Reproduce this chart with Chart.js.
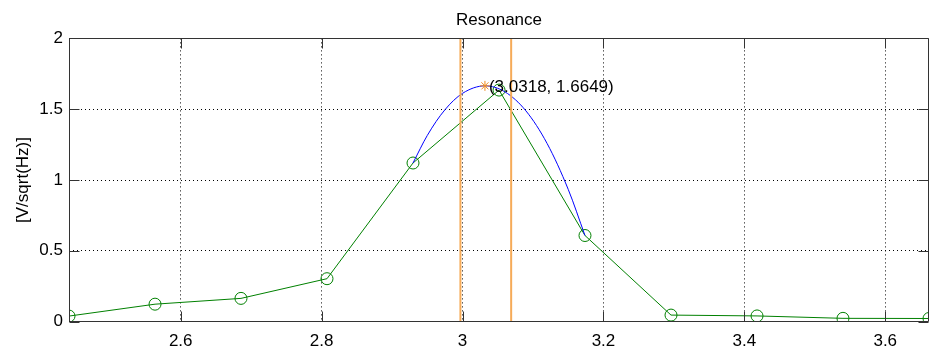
<!DOCTYPE html>
<html>
<head>
<meta charset="utf-8">
<title>Resonance</title>
<script src="https://cdn.jsdelivr.net/npm/chart.js@4"></script>
<style>
  html, body { margin: 0; padding: 0; background: #fff; overflow: hidden; }
  canvas { display: block; }
</style>
</head>
<body>
<canvas id="resChart" width="931" height="354"></canvas>
<script>
/* ═══════════════════════════════════════
   Resonance — spectrum around the peak
   ═══════════════════════════════════════ */

// Spectrum bins (frequency) and measured amplitude
const freq      = [2.4414, 2.5635, 2.6855, 2.8076, 2.9297, 3.0518, 3.1738, 3.2959, 3.4180, 3.5400, 3.6621];
const amplitude = [0.039, 0.123, 0.164, 0.303, 1.120, 1.635, 0.608, 0.046, 0.040, 0.023, 0.022];

// Fitted curve through the three top bins
const fitFreq = [2.9297, 2.95, 2.975, 3.0, 3.0318, 3.06, 3.09, 3.12, 3.15, 3.1738];
const fitAmp  = [1.120, 1.315, 1.496, 1.612, 1.6649, 1.623, 1.488, 1.258, 0.934, 0.608];

// Estimated peak and band edges
const peakFreq  = 3.0318;
const peakAmp   = 1.6649;
const bandEdges = [2.997, 3.069];

// Axis ticks
const xTicks = [2.6, 2.8, 3, 3.2, 3.4, 3.6];
const yTicks = [0, 0.5, 1, 1.5, 2];
const yRange = [0, 2];

const FONT = "'Liberation Sans', Arial, Helvetica, sans-serif";
Chart.defaults.font.family = FONT;
Chart.defaults.font.size = 17;
Chart.defaults.color = '#000';

const toXY = (xs, ys) => xs.map((x, i) => ({ x, y: ys[i] }));

// Box around the plot with inward ticks, plus the peak text
const axesBox = {
  id: 'axesBox',
  afterDatasetsDraw(chart) {
    const { ctx, chartArea: a, scales: { x, y } } = chart;
    const L = Math.round(a.left) + 0.5, R = Math.round(a.right) - 0.5;
    const T = Math.round(a.top) + 0.5,  B = Math.round(a.bottom) - 0.5;
    const tick = 10;
    ctx.save();
    ctx.strokeStyle = '#333';
    ctx.lineWidth = 1;
    ctx.beginPath();
    ctx.moveTo(L, T); ctx.lineTo(R, T); ctx.lineTo(R, B); ctx.lineTo(L, B); ctx.closePath();
    xTicks.forEach(v => {
      const px = Math.round(x.getPixelForValue(v)) + 0.5;
      ctx.moveTo(px, B); ctx.lineTo(px, B - tick);
      ctx.moveTo(px, T); ctx.lineTo(px, T + tick);
    });
    yTicks.forEach(v => {
      const py = Math.round(y.getPixelForValue(v)) + 0.5;
      ctx.moveTo(L, py); ctx.lineTo(L + tick, py);
      ctx.moveTo(R, py); ctx.lineTo(R - tick, py);
    });
    ctx.stroke();

    // peak label next to the star
    const star = chart.getDatasetMeta(4).data[0];
    ctx.fillStyle = '#000';
    ctx.font = '17px ' + FONT;
    ctx.textAlign = 'left';
    ctx.textBaseline = 'middle';
    ctx.fillText(`(${peakFreq.toFixed(4)}, ${peakAmp.toFixed(4)})`, star.x + 4, star.y + 1);
    ctx.restore();
  }
};

const GREEN  = '#008000';
const BLUE   = '#0000ff';
const ORANGE = '#f6ab58';

new Chart(document.getElementById('resChart'), {
  type: 'scatter',
  data: {
    datasets: [
      {
        data: toXY(freq, amplitude),
        showLine: true,
        borderColor: GREEN,
        borderWidth: 1,
        pointStyle: 'circle',
        pointRadius: 6,
        pointBorderColor: GREEN,
        pointBackgroundColor: 'rgba(0,0,0,0)',
        pointBorderWidth: 1,
        order: 5
      },
      {
        data: toXY(fitFreq, fitAmp),
        showLine: true,
        borderColor: BLUE,
        borderWidth: 1,
        cubicInterpolationMode: 'monotone',
        pointRadius: 0,
        order: 4
      },
      {
        data: toXY([bandEdges[0], bandEdges[0]], yRange),
        showLine: true,
        borderColor: ORANGE,
        borderWidth: 2,
        pointRadius: 0,
        order: 3
      },
      {
        data: toXY([bandEdges[1], bandEdges[1]], yRange),
        showLine: true,
        borderColor: ORANGE,
        borderWidth: 2,
        pointRadius: 0,
        order: 2
      },
      {
        data: [{ x: peakFreq, y: peakAmp }],
        pointStyle: 'star',
        pointRadius: 5,
        pointBorderColor: '#f08c1e',
        pointBorderWidth: 1,
        order: 1
      }
    ]
  },
  options: {
    responsive: false,
    animation: false,
    layout: { autoPadding: false, padding: { left: 0, right: 2, top: 0, bottom: 0 } },
    plugins: {
      legend: { display: false },
      tooltip: { enabled: false },
      title: {
        display: true,
        text: 'Resonance',
        fullSize: false,
        color: '#000',
        font: { size: 17, weight: 'normal' },
        padding: { top: 10, bottom: 8 }
      }
    },
    scales: {
      x: {
        type: 'linear',
        min: freq[0],
        max: freq[freq.length - 1],
        afterBuildTicks: s => { s.ticks = xTicks.map(value => ({ value })); },
        afterFit: s => { s.height = 32.4; s.paddingLeft = 0; s.paddingRight = 0; },
        grid: { color: '#000', lineWidth: 1, drawTicks: false },
        border: { display: false, dash: [1, 3] },
        ticks: { padding: 10, maxRotation: 0, autoSkip: false, callback: v => String(v) }
      },
      y: {
        type: 'linear',
        min: yRange[0],
        max: yRange[1],
        afterBuildTicks: s => { s.ticks = yTicks.map(value => ({ value })); },
        afterFit: s => { s.width = 69; s.paddingTop = 0; s.paddingBottom = 0; },
        grid: { color: '#000', lineWidth: 1, drawTicks: false },
        border: { display: false, dash: [1, 3] },
        ticks: { padding: 6, autoSkip: false, callback: v => String(v) },
        title: {
          display: true,
          text: '[V/sqrt(Hz)]',
          color: '#000',
          font: { size: 17 },
          padding: { top: 13, bottom: 0 }
        }
      }
    }
  },
  plugins: [axesBox]
});
</script>
</body>
</html>
